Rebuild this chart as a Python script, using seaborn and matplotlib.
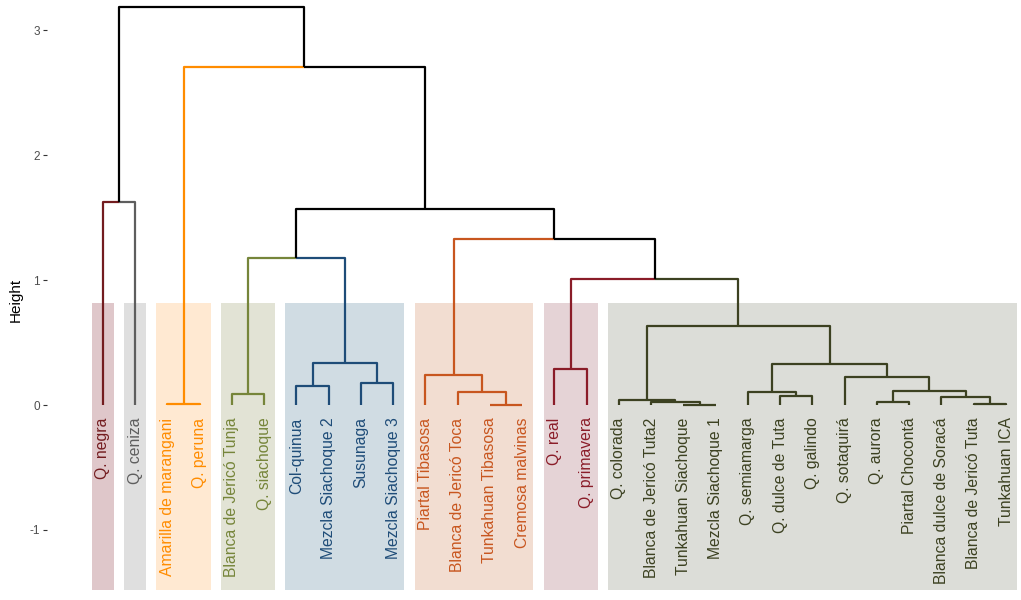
import matplotlib
matplotlib.use("Agg")
import matplotlib.pyplot as plt
import seaborn as sns

# Hojas del dendrograma, en el orden en que aparecen
labels = [
    "Q. negra", "Q. ceniza", "Amarilla de marangani", "Q. peruna",
    "Blanca de Jericó Tunja", "Q. siachoque", "Col-quinua", "Mezcla Siachoque 2",
    "Susunaga", "Mezcla Siachoque 3", "Piartal Tibasosa", "Blanca de Jericó Toca",
    "Tunkahuan Tibasosa", "Cremosa malvinas", "Q. real", "Q. primavera",
    "Q. colorada", "Blanca de Jericó Tuta2", "Tunkahuan Siachoque", "Mezcla Siachoque 1",
    "Q. semiamarga", "Q. dulce de Tuta", "Q. galindo", "Q. sotaquirá",
    "Q. aurora", "Piartal Chocontá", "Blanca dulce de Soracá", "Blanca de Jericó Tuta",
    "Tunkahuan ICA",
]

# grupo (k = 8) de cada hoja
clusters = [0, 1, 2, 2, 3, 3, 4, 4, 4, 4, 5, 5, 5, 5, 6, 6] + [7] * 13

# uniones tipo linkage: (hijo a, hijo b, altura); id >= n -> unión previa
merge_a = [18, 12, 2, 27, 17, 24, 16, 26, 21, 4, 11, 20, 34, 6, 8, 23, 10, 14, 40, 42, 35, 46, 38, 45, 51, 0, 31, 54]
merge_b = [19, 13, 3, 28, 29, 25, 33, 32, 22, 5, 30, 37, 36, 7, 9, 41, 39, 15, 44, 43, 47, 49, 48, 50, 52, 1, 53, 55]
merge_h = [0.004, 0.003, 0.006, 0.01, 0.022, 0.028, 0.04, 0.066, 0.072, 0.09, 0.105, 0.107, 0.115,
           0.155, 0.178, 0.227, 0.24, 0.285, 0.33, 0.34, 0.634, 1.008, 1.179, 1.328, 1.566,
           1.627, 2.707, 3.186]

line_colors = ["#731c1f", "#5e5e5e", "#ff8c00", "#76853a", "#1e4c78", "#c8561f", "#8a1c28", "#3c4121"]
rect_colors = ["#dfc7ca", "#dfdfdf", "#ffe9d2", "#e2e3d5", "#d0dce3", "#f2ddd1", "#e5d3d6", "#dcddd8"]

sns.set_theme(style="white")
plt.rcParams["font.family"] = ["Liberation Sans", "DejaVu Sans"]
plt.rcParams["axes.unicode_minus"] = False

n = len(labels)
xpos = {i: float(i) for i in range(n)}
hgt = {i: 0.0 for i in range(n)}
grp = {i: clusters[i] for i in range(n)}

fig = plt.figure(figsize=(10.21, 6.0), dpi=100)
ax = fig.add_axes([0.046, 0.0, 0.954, 1.0])

# rectángulos de fondo por grupo
for g in range(len(rect_colors)):
    idx = [i for i in range(n) if clusters[i] == g]
    ax.fill_between([min(idx) - 0.34, max(idx) + 0.34], -1.48, 0.816,
                    color=rect_colors[g], lw=0, zorder=0)

# ramas
for m, (a, b, h) in enumerate(zip(merge_a, merge_b, merge_h)):
    node = n + m
    xpos[node] = (xpos[a] + xpos[b]) / 2
    hgt[node] = h
    grp[node] = grp[a] if grp[a] == grp[b] else None
    for c in (a, b):
        col = "black" if grp[c] is None else line_colors[grp[c]]
        ax.plot([xpos[c], xpos[c], xpos[node]], [hgt[c], h, h],
                color=col, lw=1.6, solid_capstyle="butt", zorder=2)

for i, lab in enumerate(labels):
    ax.text(i, -0.1, lab, rotation=90, ha="center", va="top",
            fontsize=11.3, color=line_colors[clusters[i]])

ax.set_xlim(-1.736, 28.465)
ax.set_ylim(-1.56, 3.24)
ax.set_xticks([])
ax.set_yticks([-1, 0, 1, 2, 3])
ax.tick_params(axis="y", left=True, length=3, width=0.8, color="#333333",
               labelsize=8.5, labelcolor="#4d4d4d", pad=2)
ax.set_ylabel("Height", fontsize=11, color="black", labelpad=5)
sns.despine(ax=ax, left=True, bottom=True)

fig.savefig("out.png", dpi=100)
